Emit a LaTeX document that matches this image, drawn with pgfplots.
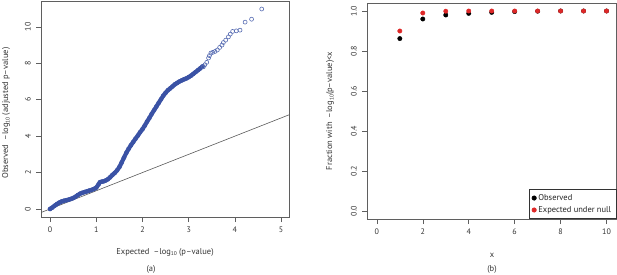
\documentclass[border=0pt]{standalone}
\usepackage{pgfplots}
\pgfplotsset{compat=1.18}
\usepackage{pgfplotstable}
\usepackage{fontspec}
\setmainfont{PT Sans}
\definecolor{qqblue}{RGB}{58,82,165}
\definecolor{nullred}{RGB}{222,40,40}
\definecolor{frame}{RGB}{95,95,95}
\newcommand{\sub}[1]{\raisebox{-0.35ex}{\fontsize{5.5}{5.5}\selectfont #1}}

\pgfplotstableread{
x y
0.00 0.00
0.05 0.08
0.10 0.18
0.15 0.27
0.20 0.35
0.25 0.41
0.30 0.45
0.35 0.48
0.40 0.51
0.45 0.55
0.50 0.60
0.55 0.67
0.60 0.76
0.65 0.84
0.70 0.89
0.75 0.93
0.80 0.97
0.85 1.01
0.90 1.05
0.95 1.10
1.00 1.17
1.05 1.35
1.08 1.47
1.12 1.50
1.16 1.52
1.20 1.56
1.25 1.63
1.30 1.74
1.35 1.87
1.40 1.98
1.45 2.12
1.50 2.30
1.55 2.55
1.60 2.82
1.65 3.08
1.70 3.30
1.75 3.50
1.80 3.68
1.85 3.86
1.90 4.03
1.95 4.22
2.00 4.38
2.05 4.58
2.10 4.80
2.15 5.00
2.20 5.22
2.25 5.42
2.30 5.62
2.35 5.82
2.40 6.02
2.45 6.22
2.50 6.38
2.55 6.52
2.60 6.62
2.65 6.73
2.70 6.84
2.75 6.92
2.80 7.00
2.85 7.06
2.90 7.12
2.95 7.17
3.00 7.24
3.05 7.32
3.10 7.42
3.15 7.52
3.20 7.62
3.25 7.72
3.30 7.83
}\dense

\pgfplotstableread{
x y
3.32 7.81
3.35 7.92
3.39 8.05
3.43 8.29
3.45 8.42
3.48 8.56
3.52 8.60
3.57 8.65
3.62 8.73
3.67 8.87
3.72 9.00
3.75 9.14
3.80 9.27
3.86 9.45
3.90 9.60
3.95 9.75
4.03 9.78
4.11 9.82
4.22 10.26
4.36 10.42
4.58 10.98
}\tail

\pgfplotstableread{
x y
1 0.862
2 0.960
3 0.980
4 0.988
5 0.993
6 0.997
7 0.999
8 1.000
9 1.000
10 1.000
}\observed

\pgfplotstableread{
x y
1 0.900
2 0.990
3 0.999
4 1.000
5 1.000
6 1.000
7 1.000
8 1.000
9 1.000
10 1.000
}\expected

\pgfplotsset{
  rstyle/.style={
    scale only axis,
    tick align=outside,
    xtick pos=left, ytick pos=left,
    major tick length=5bp,
    every tick/.style={frame, line width=0.6bp},
    axis line style={frame, line width=0.6bp},
    tick label style={font=\fontsize{8}{9}\selectfont, text=black!80},
    /pgf/number format/assume math mode=true,
    xticklabel style={anchor=north, inner sep=0pt, yshift=-5bp},
    yticklabel style={rotate=90, anchor=south, inner sep=5bp},
  }
}

\begin{document}
\begin{tikzpicture}
\path[use as bounding box] (0,0) rectangle (617bp,275bp);

\begin{axis}[rstyle,
  at={(41bp,58bp)}, anchor=south west, width=248bp, height=216bp,
  xmin=-0.195, xmax=5.17, ymin=-0.44, ymax=11.42,
  xtick={0,1,2,3,4,5}, ytick={0,2,4,6,8,10},
]
\addplot[black!65, line width=0.6bp] coordinates {(-1,-1) (6,6)};
\addplot[qqblue, line width=4.2bp, line join=round, line cap=round] table[x=x,y=y] {\dense};
\addplot[only marks, mark=o, mark size=2bp, qqblue, mark options={line width=0.6bp}] table[x=x,y=y] {\dense};
\addplot[only marks, mark=o, mark size=2bp, qqblue!85!white, mark options={line width=0.6bp}] table[x=x,y=y] {\tail};
\end{axis}

\begin{axis}[rstyle,
  at={(367bp,56bp)}, anchor=south west, width=249.4bp, height=216bp,
  xmin=-0.43, xmax=10.43, ymin=-0.04, ymax=1.04,
  xtick={0,2,4,6,8,10}, ytick={0,0.2,0.4,0.6,0.8,1.0},
  yticklabels={0.0,0.2,0.4,0.6,0.8,1.0},
  legend style={at={(1,0)}, anchor=south east, draw=black!80, line width=0.6bp,
    font=\fontsize{8.5}{10}\selectfont, text=black!85, inner xsep=3bp, inner ysep=3bp, row sep=0.5bp},
  legend cell align=left,
]
\addplot[only marks, mark=*, mark size=2.2bp, black] table[x=x,y=y] {\observed};
\addlegendentry{Observed}
\addplot[only marks, mark=*, mark size=2.2bp, nullred, mark options={draw=nullred, fill=nullred}] table[x=x,y=y] {\expected};
\addlegendentry{Expected under null}
\end{axis}

\node[rotate=90, font=\fontsize{8.5}{10}\selectfont, text=black!80] at (6bp,162bp)
  {Observed\enspace –log\sub{10} (adjusted p–value)};
\node[font=\fontsize{8.5}{10}\selectfont, text=black!80] at (165bp,23bp)
  {Expected\enspace –log\sub{10} (p–value)};
\node[font=\fontsize{8.5}{10}\selectfont, text=black!80] at (151bp,6bp) {(a)};

\node[rotate=90, font=\fontsize{8.5}{10}\selectfont, text=black!80] at (330bp,164bp)
  {Fraction with\enspace –log\sub{10}(p–value)<x};
\node[font=\fontsize{8.5}{10}\selectfont, text=black!80] at (492bp,20bp) {x};
\node[font=\fontsize{8.5}{10}\selectfont, text=black!80] at (492bp,6bp) {(b)};
\end{tikzpicture}
\end{document}
